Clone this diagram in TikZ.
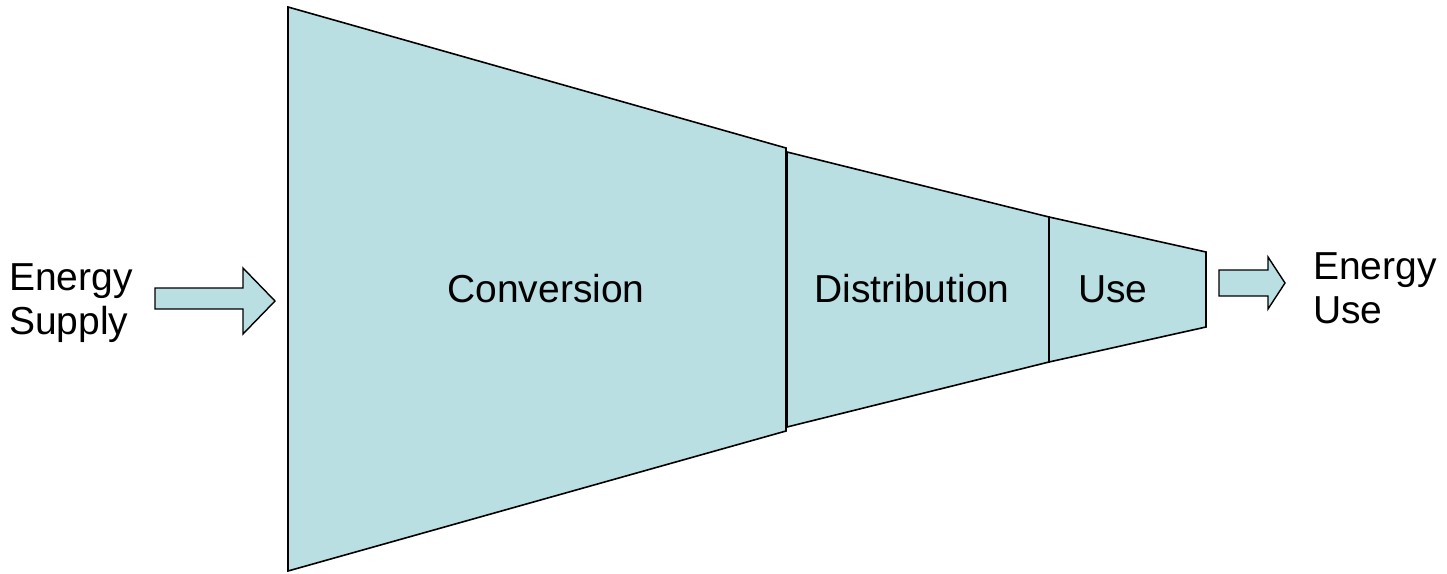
\documentclass[tikz,border=0pt]{standalone}
\usepackage{fontspec}
\setmainfont{Liberation Sans}
\definecolor{stagefill}{RGB}{185,223,227}
\begin{document}
\begin{tikzpicture}[x=1pt,y=-1pt,
  stage/.style={draw=black,fill=stagefill,line width=1.6pt,line join=miter},
  blockarrow/.style={draw=black,fill=stagefill,line width=1.4pt,line join=miter},
  label/.style={inner sep=0pt,font=\fontsize{39}{44}\selectfont,text=black}]
  \useasboundingbox (0,0) rectangle (1447,573);

  % funnel stages
  \draw[stage] (288,7) -- (786,148) -- (786,431) -- (288,571) -- cycle;
  \draw[stage] (787,152) -- (1049,217) -- (1049,362) -- (787,427) -- cycle;
  \draw[stage] (1049,217) -- (1206,252) -- (1206,327) -- (1049,362) -- cycle;

  % stage labels
  \node[label] (conv) at (546,289) {Conversion};
  \node[label] (dist) at (912,289) {Distribution};
  \node[label] (use)  at (1113,289) {Use};

  % input and output block arrows
  \draw[blockarrow] (155,288) -- (243,288) -- (243,268) -- (275,301)
    -- (243,334) -- (243,309) -- (155,309) -- cycle;
  \draw[blockarrow] (1219,270) -- (1268,270) -- (1268,257) -- (1285,283)
    -- (1268,309) -- (1268,296) -- (1219,296) -- cycle;

  % outer labels
  \node[label,anchor=west,align=left] (supply) at (9,303) {Energy\\Supply};
  \node[label,anchor=west,align=left] (enduse) at (1313,288) {Energy\\Use};
\end{tikzpicture}
\end{document}
